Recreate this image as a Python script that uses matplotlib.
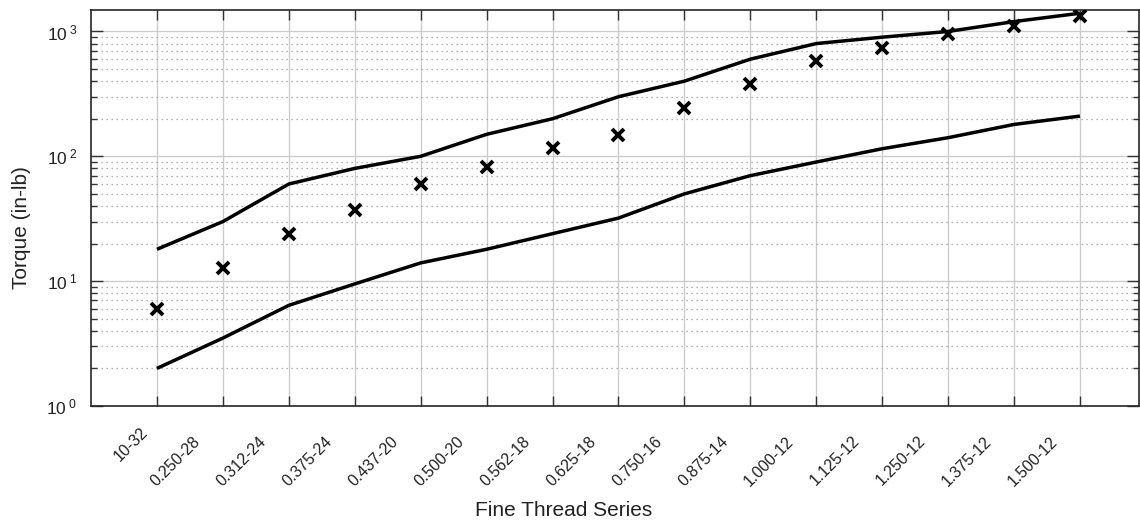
import numpy as np
import matplotlib
matplotlib.use("Agg")
import matplotlib.pyplot as plt
from matplotlib.ticker import LogLocator, NullFormatter, FuncFormatter
from matplotlib.transforms import ScaledTranslation

plt.rcParams['font.family'] = ['Liberation Sans', 'DejaVu Sans']
plt.rcParams['mathtext.fontset'] = 'custom'
plt.rcParams['mathtext.rm'] = 'Liberation Sans'
plt.rcParams['mathtext.it'] = 'Liberation Sans'

categories = ["10-32", "0.250-28", "0.312-24", "0.375-24", "0.437-20", "0.500-20",
              "0.562-18", "0.625-18", "0.750-16", "0.875-14", "1.000-12", "1.125-12",
              "1.250-12", "1.375-12", "1.500-12"]
upper = [18, 30, 60, 80, 100, 150, 200, 300, 400, 600, 800, 900, 1000, 1200, 1400]
lower = [2.0, 3.5, 6.4, 9.5, 14, 18, 24, 32, 50, 70, 90, 115, 141, 180, 210]
measured = [6.0, 12.7, 24, 37, 60, 82, 116, 147, 242, 377, 575, 740, 946, 1100, 1320]

x = np.arange(1, len(categories) + 1)

W, H = 1140, 521
fig = plt.figure(figsize=(W / 100, H / 100), dpi=100)
ax = fig.add_axes([91 / W, 1 - 406 / H, (1139 - 91) / W, (406 - 9.5) / H])

ax.plot(x, upper, color='black', lw=2.5, solid_capstyle='butt', zorder=3)
ax.plot(x, lower, color='black', lw=2.5, solid_capstyle='butt', zorder=3)
ax.plot(x, measured, linestyle='none', marker='x', color='black', ms=9, mew=2.8, zorder=4)

ax.set_yscale('log')
ax.set_ylim(1, 10 ** 3.176)
ax.set_xlim(0, (1139 - 91) / 65.93)
ax.set_xticks(x)
ax.set_xticklabels(categories, rotation=45, ha='right', va='baseline',
                   rotation_mode='anchor', fontsize=11.5, color='#222222')
ax.yaxis.set_major_locator(LogLocator(base=10, numticks=10))
ax.yaxis.set_minor_locator(LogLocator(base=10, subs=np.arange(2, 10), numticks=20))
ax.yaxis.set_minor_formatter(NullFormatter())
ax.yaxis.set_major_formatter(FuncFormatter(lambda v, p: r'$10^{\;%d}$' % round(np.log10(v))))

ax.grid(True, which='major', axis='both', color='#cccccc', lw=1.0, linestyle='-')
ax.grid(True, which='minor', axis='y', color='#999999', lw=0.9, linestyle=(0, (1, 3)))
ax.set_axisbelow(True)

ax.tick_params(axis='both', which='both', direction='in', top=True, right=True, color='#333333')
ax.tick_params(axis='x', which='major', length=7.5, width=1.0, pad=0)
ax.tick_params(axis='y', which='major', length=8.6, width=1.0, pad=10, labelsize=12.5, labelcolor='#222222')
ax.tick_params(axis='y', which='minor', length=4.3, width=1.0)
for s in ax.spines.values():
    s.set_color('#262626')
    s.set_linewidth(1.2)

# MATLAB-like placement of the rotated tick labels
base_off = ScaledTranslation(-21.5 / 100, -36 / 100, fig.dpi_scale_trans)
for i, lab in enumerate(ax.get_xticklabels()):
    off = base_off
    if i == 0:
        off = ScaledTranslation(-8.7 / 100, -26.8 / 100, fig.dpi_scale_trans)
    lab.set_transform(lab.get_transform() + off)

ax.set_xlabel('Fine Thread Series', fontsize=15, color='#222222')
ax.xaxis.label.set_va('center')
ax.xaxis.set_label_coords((564 - 91) / 1048, (406 - 510) / 396.5)
ax.set_ylabel('Torque (in-lb)', fontsize=15, color='#222222')
ax.yaxis.label.set_va('center')
ax.yaxis.set_label_coords((22 - 91) / 1048, (406 - 228) / 396.5)

fig.savefig('out.png', dpi=100)
